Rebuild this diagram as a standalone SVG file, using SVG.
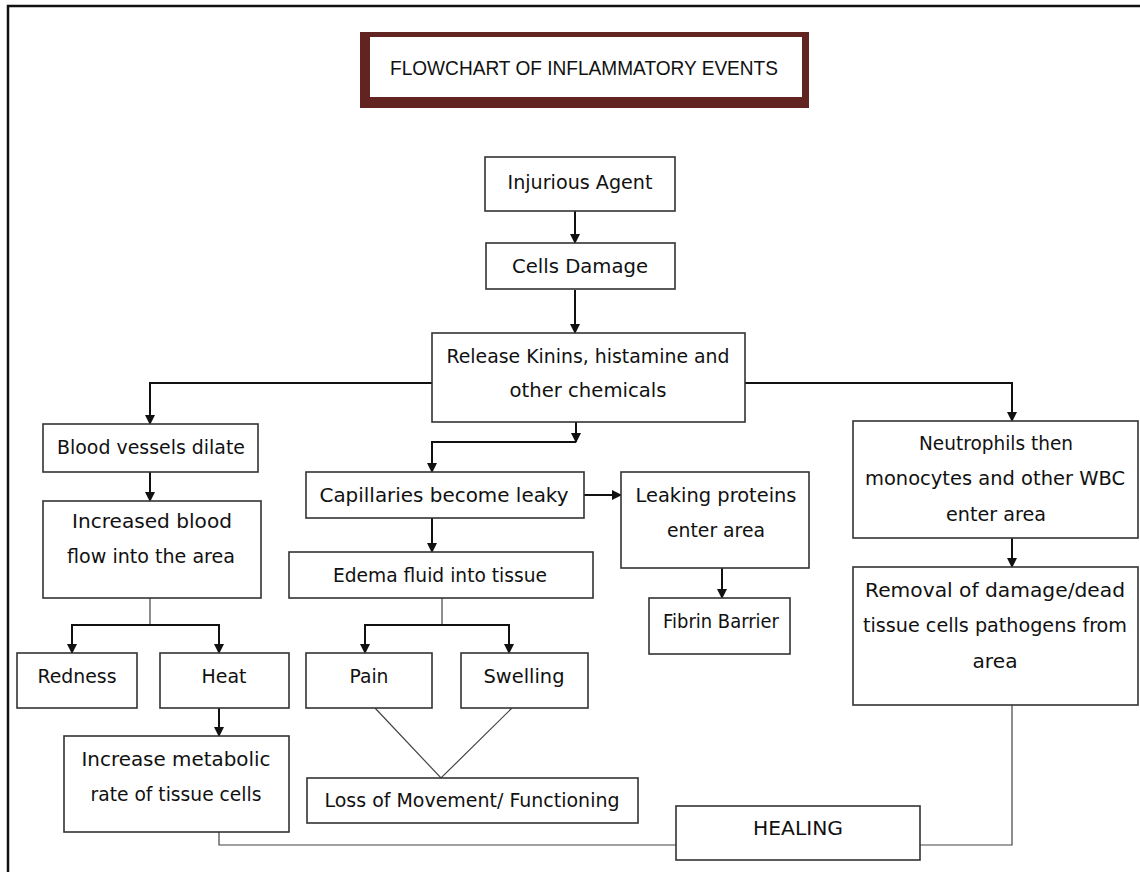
<svg xmlns="http://www.w3.org/2000/svg" width="1140" height="872" viewBox="0 0 1140 872">
<style>
.box{fill:#fff;stroke:#333;stroke-width:1.6}
.t{font-family:"DejaVu Sans","Liberation Sans",sans-serif;font-size:19px;fill:#111;text-anchor:middle}
.a{fill:none;stroke:#111;stroke-width:2}
.l{fill:none;stroke:#444;stroke-width:1.2}
</style>
<defs>
<marker id="ah" markerUnits="userSpaceOnUse" markerWidth="10" markerHeight="12" refX="9" refY="5" orient="auto">
<path d="M0,0 L10,5 L0,10 Z" fill="#111"/>
</marker>
</defs>
<rect width="1140" height="872" fill="#fff"/>
<path d="M8,872 V6 H1140" fill="none" stroke="#111" stroke-width="2.5"/>
<g id="title">
<rect x="360" y="32" width="449" height="76" fill="#612420"/>
<rect x="370" y="37" width="432" height="60" fill="#fff"/>
<text x="584" y="75" font-family="Liberation Sans,sans-serif" font-size="21" fill="#111" text-anchor="middle" textLength="388" lengthAdjust="spacingAndGlyphs">FLOWCHART OF INFLAMMATORY EVENTS</text>
</g>
<g id="connectors">
<path class="a" d="M575,211 V243" marker-end="url(#ah)"/>
<path class="a" d="M575,290 V333" marker-end="url(#ah)"/>
<path class="a" d="M432,383 H150 V424" marker-end="url(#ah)"/>
<path class="a" d="M745,383 H1012 V421" marker-end="url(#ah)"/>
<path class="a" d="M576,422 V442" marker-end="url(#ah)"/>
<path class="a" d="M576,442 H432 V472" marker-end="url(#ah)"/>
<path class="a" d="M150,472 V501" marker-end="url(#ah)"/>
<path class="l" d="M150,598 V625"/>
<path class="a" d="M150,625 H72 V653" marker-end="url(#ah)"/>
<path class="a" d="M150,625 H219 V653" marker-end="url(#ah)"/>
<path class="a" d="M219,708 V736" marker-end="url(#ah)"/>
<path class="l" d="M219,832 V845 H676"/>
<path class="a" d="M584,495 H621" marker-end="url(#ah)"/>
<path class="a" d="M432,518 V552" marker-end="url(#ah)"/>
<path class="a" d="M722,568 V598" marker-end="url(#ah)"/>
<path class="l" d="M442,598 V625"/>
<path class="a" d="M442,625 H365 V653" marker-end="url(#ah)"/>
<path class="a" d="M442,625 H509 V653" marker-end="url(#ah)"/>
<path class="l" d="M375,708 L441,778 L512,708"/>
<path class="a" d="M1012,538 V567" marker-end="url(#ah)"/>
<path class="l" d="M1012,705 V845 H920"/>
</g>
<g id="n-injurious"><rect class="box" x="485" y="157" width="190" height="54"/><text class="t" x="580" y="189" textLength="145" lengthAdjust="spacingAndGlyphs">Injurious Agent</text></g>
<g id="n-cells"><rect class="box" x="486" y="243" width="189" height="46"/><text class="t" x="580" y="273" textLength="136" lengthAdjust="spacingAndGlyphs">Cells Damage</text></g>
<g id="n-release"><rect class="box" x="432" y="333" width="313" height="89"/><text class="t" x="588" y="363" textLength="283" lengthAdjust="spacingAndGlyphs">Release Kinins, histamine and</text><text class="t" x="588" y="397" textLength="157" lengthAdjust="spacingAndGlyphs">other chemicals</text></g>
<g id="n-blood"><rect class="box" x="43" y="424" width="215" height="48"/><text class="t" x="151" y="454" textLength="188" lengthAdjust="spacingAndGlyphs">Blood vessels dilate</text></g>
<g id="n-increased"><rect class="box" x="43" y="501" width="218" height="97"/><text class="t" x="152" y="528" textLength="160" lengthAdjust="spacingAndGlyphs">Increased blood</text><text class="t" x="151" y="563" textLength="168" lengthAdjust="spacingAndGlyphs">flow into the area</text></g>
<g id="n-redness"><rect class="box" x="17" y="653" width="120" height="55"/><text class="t" x="77" y="683" textLength="79" lengthAdjust="spacingAndGlyphs">Redness</text></g>
<g id="n-heat"><rect class="box" x="160" y="653" width="129" height="55"/><text class="t" x="224" y="683" textLength="45" lengthAdjust="spacingAndGlyphs">Heat</text></g>
<g id="n-metabolic"><rect class="box" x="64" y="736" width="225" height="96"/><text class="t" x="176" y="766" textLength="189" lengthAdjust="spacingAndGlyphs">Increase metabolic</text><text class="t" x="176" y="801" textLength="171" lengthAdjust="spacingAndGlyphs">rate of tissue cells</text></g>
<g id="n-capillaries"><rect class="box" x="306" y="472" width="278" height="46"/><text class="t" x="444" y="502" textLength="249" lengthAdjust="spacingAndGlyphs">Capillaries become leaky</text></g>
<g id="n-leaking"><rect class="box" x="621" y="472" width="188" height="96"/><text class="t" x="716" y="502" textLength="161" lengthAdjust="spacingAndGlyphs">Leaking proteins</text><text class="t" x="716" y="537" textLength="98" lengthAdjust="spacingAndGlyphs">enter area</text></g>
<g id="n-fibrin"><rect class="box" x="649" y="598" width="141" height="56"/><text class="t" x="721" y="628" textLength="116" lengthAdjust="spacingAndGlyphs">Fibrin Barrier</text></g>
<g id="n-edema"><rect class="box" x="289" y="552" width="304" height="46"/><text class="t" x="440" y="582" textLength="214" lengthAdjust="spacingAndGlyphs">Edema fluid into tissue</text></g>
<g id="n-pain"><rect class="box" x="306" y="653" width="126" height="55"/><text class="t" x="369" y="683" textLength="39" lengthAdjust="spacingAndGlyphs">Pain</text></g>
<g id="n-swelling"><rect class="box" x="461" y="653" width="127" height="55"/><text class="t" x="524" y="683" textLength="81" lengthAdjust="spacingAndGlyphs">Swelling</text></g>
<g id="n-loss"><rect class="box" x="307" y="778" width="331" height="45"/><text class="t" x="472" y="807" textLength="295" lengthAdjust="spacingAndGlyphs">Loss of Movement/ Functioning</text></g>
<g id="n-healing"><rect class="box" x="676" y="806" width="244" height="54"/><text class="t" x="798" y="835" font-family="Liberation Sans,sans-serif" textLength="90" lengthAdjust="spacingAndGlyphs">HEALING</text></g>
<g id="n-neutrophils"><rect class="box" x="853" y="421" width="285" height="117"/><text class="t" x="996" y="450" textLength="154" lengthAdjust="spacingAndGlyphs">Neutrophils then</text><text class="t" x="995" y="485" textLength="260" lengthAdjust="spacingAndGlyphs">monocytes and other WBC</text><text class="t" x="996" y="521" textLength="100" lengthAdjust="spacingAndGlyphs">enter area</text></g>
<g id="n-removal"><rect class="box" x="853" y="567" width="285" height="138"/><text class="t" x="995" y="597" textLength="260" lengthAdjust="spacingAndGlyphs">Removal of damage/dead</text><text class="t" x="995" y="632" textLength="264" lengthAdjust="spacingAndGlyphs">tissue cells pathogens from</text><text class="t" x="995" y="668" textLength="45" lengthAdjust="spacingAndGlyphs">area</text></g>
</svg>
